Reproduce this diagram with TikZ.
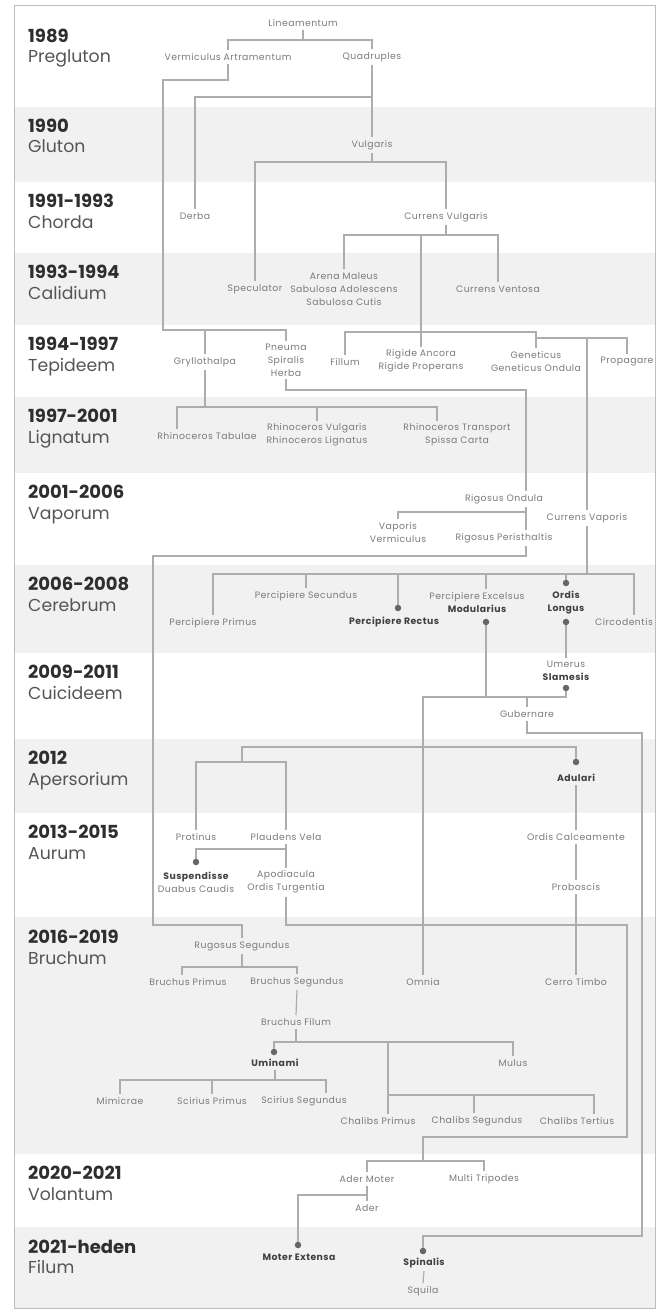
\documentclass[tikz,border=0pt]{standalone}
\usepackage{fontspec}
\setmainfont{Poppins}
\newfontfamily\labfont[LetterSpace=5]{Poppins}
\definecolor{bandc}{HTML}{F1F1F1}
\definecolor{linec}{HTML}{ADADAD}
\definecolor{labc}{HTML}{7A7A7A}
\definecolor{boldc}{HTML}{3F3F3F}
\definecolor{yearc}{HTML}{2E2E2E}
\definecolor{namec}{HTML}{555555}
\definecolor{borderc}{HTML}{BDBDBD}
\definecolor{dotc}{HTML}{666666}
\tikzset{
 lab/.style={font=\labfont\fontsize{9.3}{13}\selectfont, text=labc, align=center, inner sep=3pt},
 blab/.style={lab, font=\labfont\fontsize{9.3}{13}\selectfont\bfseries, text=boldc},
 ln/.style={draw=linec, line width=1.2pt},
 dotmark/.style={circle, fill=dotc, inner sep=0pt, minimum size=6.5pt},
 yearlab/.style={anchor=base west, font=\fontsize{18}{20}\selectfont\bfseries, text=yearc, inner sep=0pt},
 namelab/.style={anchor=base west, font=\fontsize{17.3}{20}\selectfont, text=namec, inner sep=0pt},
}
\newcommand{\bd}[1]{{\color{boldc}\bfseries #1}}
\begin{document}
\begin{tikzpicture}[x=1pt,y=-1pt]
\useasboundingbox (0,0) rectangle (661,1311);
% bands
\fill[bandc] (15,107) rectangle (655,182);
\fill[bandc] (15,253) rectangle (655,325);
\fill[bandc] (15,397) rectangle (655,473);
\fill[bandc] (15,565) rectangle (655,653);
\fill[bandc] (15,739) rectangle (655,813);
\fill[bandc] (15,917) rectangle (655,1154);
\fill[bandc] (15,1227) rectangle (655,1308);
\draw[borderc, line width=1.5pt] (14.5,5.5) rectangle (655.5,1308.5);
% years
\node[yearlab] (y1) at (28,43) {1989};          \node[namelab] (n1) at (28,63) {Pregluton};
\node[yearlab] (y2) at (28,132) {1990};         \node[namelab] (n2) at (28,153) {Gluton};
\node[yearlab] (y3) at (28,207) {1991-1993};    \node[namelab] (n3) at (28,228) {Chorda};
\node[yearlab] (y4) at (28,278) {1993-1994};    \node[namelab] (n4) at (28,299) {Calidium};
\node[yearlab] (y5) at (28,350) {1994-1997};    \node[namelab] (n5) at (28,371) {Tepideem};
\node[yearlab] (y6) at (28,422) {1997-2001};    \node[namelab] (n6) at (28,443) {Lignatum};
\node[yearlab] (y7) at (28,498) {2001-2006};    \node[namelab] (n7) at (28,519) {Vaporum};
\node[yearlab] (y8) at (28,590) {2006-2008};    \node[namelab] (n8) at (28,611) {Cerebrum};
\node[yearlab] (y9) at (28,678) {2009-2011};    \node[namelab] (n9) at (28,699) {Cuicideem};
\node[yearlab] (y10) at (28,764) {2012};        \node[namelab] (n10) at (28,785) {Apersorium};
\node[yearlab] (y11) at (28,838) {2013-2015};   \node[namelab] (n11) at (28,859) {Aurum};
\node[yearlab] (y12) at (28,943) {2016-2019};   \node[namelab] (n12) at (28,964) {Bruchum};
\node[yearlab] (y13) at (28,1179) {2020-2021};  \node[namelab] (n13) at (28,1200) {Volantum};
\node[yearlab] (y14) at (28,1253) {2021-heden}; \node[namelab] (n14) at (28,1273) {Filum};
% labels
\node[lab] (lin) at (303,23) {Lineamentum};
\node[lab] (va) at (228,57) {Vermiculus Artramentum};
\node[lab] (quad) at (372,57) {Quadruples};
\node[lab] (vulg) at (372,145) {Vulgaris};
\node[lab] (derba) at (195,216) {Derba};
\node[lab] (cv) at (446,217) {Currens Vulgaris};
\node[lab] (spec) at (255,289) {Speculator};
\node[lab] (arena) at (344,289) {Arena Maleus\\Sabulosa Adolescens\\Sabulosa Cutis};
\node[lab] (cvent) at (498,289) {Currens Ventosa};
\node[lab] (gryl) at (205,362) {Gryllothalpa};
\node[lab] (pneu) at (286,360) {Pneuma\\Spiralis\\Herba};
\node[lab] (fill) at (345,362) {Fillum};
\node[lab] (rig) at (421,361) {Rigide Ancora\\Rigide Properans};
\node[lab] (gen) at (536,361) {Geneticus\\Geneticus Ondula};
\node[lab] (prop) at (627,362) {Propagare};
\node[lab] (rtab) at (207,436) {Rhinoceros Tabulae};
\node[lab] (rvul) at (317,435) {Rhinoceros Vulgaris\\Rhinoceros Lignatus};
\node[lab] (rtra) at (457,435) {Rhinoceros Transport\\Spissa Carta};
\node[lab] (rond) at (504,499) {Rigosus Ondula};
\node[lab] (vapv) at (398,532) {Vaporis\\Vermiculus};
\node[lab] (rper) at (504,538) {Rigosus Peristhaltis};
\node[lab] (cvap) at (587,518) {Currens Vaporis};
\node[lab] (pprim) at (213,623) {Percipiere Primus};
\node[lab] (psec) at (306,596) {Percipiere Secundus};
\node[blab] (prect) at (394,622) {Percipiere Rectus};
\node[lab] (pexc) at (477,602.5) {Percipiere Excelsus\\\bd{Modularius}};
\node[blab] (ordis) at (566,602.5) {Ordis\\Longus};
\node[lab] (circ) at (624,622) {Circodentis};
\node[lab] (umer) at (566,670.5) {Umerus\\\bd{Slamesis}};
\node[lab] (gub) at (527,714) {Gubernare};
\node[blab] (adul) at (576,778) {Adulari};
\node[lab] (ocal) at (576,837) {Ordis Calceamente};
\node[lab] (prob) at (576,887) {Proboscis};
\node[lab] (cerro) at (576,982) {Cerro Timbo};
\node[lab] (omnia) at (423,982) {Omnia};
\node[lab] (prot) at (196,837) {Protinus};
\node[lab] (plau) at (286,837) {Plaudens Vela};
\node[lab] (susp) at (196,882) {\bd{Suspendisse}\\Duabus Caudis};
\node[lab] (apod) at (286,882) {Apodiacula\\Ordis Turgentia};
\node[lab] (rug) at (242,946) {Rugosus Segundus};
\node[lab] (bprim) at (188,982) {Bruchus Primus};
\node[lab] (bseg) at (297,982) {Bruchus Segundus};
\node[lab] (bfil) at (296,1022) {Bruchus Filum};
\node[blab] (umin) at (275,1063) {Uminami};
\node[lab] (mulus) at (513,1063) {Mulus};
\node[lab] (mimi) at (120,1101) {Mimicrae};
\node[lab] (sprim) at (212,1101) {Scirius Primus};
\node[lab] (sseg) at (304,1101) {Scirius Segundus};
\node[lab] (cprim) at (378,1121) {Chalibs Primus};
\node[lab] (cseg) at (477,1121) {Chalibs Segundus};
\node[lab] (cter) at (577,1121) {Chalibs Tertius};
\node[lab] (am) at (367,1179) {Ader Moter};
\node[lab] (multi) at (484,1179) {Multi Tripodes};
\node[lab] (ader) at (367,1208) {Ader};
\node[blab] (mext) at (299,1257) {Moter Extensa};
\node[blab] (spin) at (424,1263) {Spinalis};
\node[lab] (squ) at (423,1291) {Squila};
% dots
\node[dotmark] (dRect) at (398,608) {};
\node[dotmark] (dOrd1) at (566,583) {};
\node[dotmark] (dMod) at (486,622) {};
\node[dotmark] (dOrd2) at (566,622) {};
\node[dotmark] (dSlam) at (566,688) {};
\node[dotmark] (dAdul) at (576,762) {};
\node[dotmark] (dSusp) at (196,862) {};
\node[dotmark] (dUmin) at (274,1052) {};
\node[dotmark] (dMext) at (298,1245) {};
\node[dotmark] (dSpin) at (423,1251) {};
% shifted anchors
\coordinate (rtabT) at ([xshift=-30pt]rtab.north);
\coordinate (rtraT) at ([xshift=-20pt]rtra.north);
\coordinate (rondT) at ([xshift=22pt]rond.north);
\coordinate (rondB) at ([xshift=22pt]rond.south);
\coordinate (rperT) at ([xshift=22pt]rper.north);
\coordinate (rperB) at ([xshift=22pt]rper.south);
\coordinate (pexcT) at ([xshift=9pt]pexc.north);
\coordinate (circT) at ([xshift=10pt]circ.north);
\coordinate (bprimT) at ([xshift=-6pt]bprim.north);
\coordinate (ssegT) at ([xshift=22pt]sseg.north);
\coordinate (cprimT) at ([xshift=10pt]cprim.north);
\coordinate (csegT) at ([xshift=-3pt]cseg.north);
\coordinate (cterT) at ([xshift=17pt]cter.north);
% connectors
\draw[ln] (lin.south) -- (lin.south |- 0,40);
\draw[ln] (va.north) |- (quad.north |- 0,40) -- (quad.north);
\draw[ln] (va.south) -- (va.south |- 0,80) -- (163,80) -- (163,330) -| (pneu.north);
\draw[ln] (gryl.north |- 0,330) -- (gryl.north);
\draw[ln] (quad.south) -- (vulg.north);
\draw[ln] (quad.south |- 0,97) -| (derba.north);
\draw[ln] (vulg.south) -- (vulg.south |- 0,162);
\draw[ln] (spec.north) |- (cv.north |- 0,162) -- (cv.north);
\draw[ln] (cv.south) -- (cv.south |- 0,235);
\draw[ln] (arena.north) |- (cvent.north |- 0,235) -- (cvent.north);
\draw[ln] (rig.north |- 0,235) -- (rig.north);
\draw[ln] (fill.north) |- (gen.north |- 0,332) -- (gen.north);
\draw[ln] (gen.north |- 0,332) -- (gen.north |- 0,338) -| (prop.north);
\draw[ln] (cvap.north |- 0,338) -- (cvap.north);
\draw[ln] (cvap.south) -- (cvap.south |- 0,574);
\draw[ln] (gryl.south) -- (gryl.south |- 0,407);
\draw[ln] (rtabT) |- (rtraT |- 0,407) -- (rtraT);
\draw[ln] (rvul.north |- 0,407) -- (rvul.north);
\draw[ln] (pneu.south) |- (rondT |- 0,390) -- (rondT);
\draw[ln] (rondB) -- (rondB |- 0,512);
\draw[ln] (vapv.north) |- (rperT |- 0,512) -- (rperT);
\draw[ln] (rperB) -- (rperB |- 0,556) -- (153,556) -- (153,925) -| (rug.north);
\draw[ln] (pprim.north) |- (circT |- 0,574) -- (circT);
\draw[ln] (psec.north |- 0,574) -- (psec.north);
\draw[ln] (dRect |- 0,574) -- (dRect);
\draw[ln] (pexcT |- 0,574) -- (pexcT);
\draw[ln] (dOrd1 |- 0,574) -- (dOrd1);
\draw[ln] (dMod) -- (dMod |- 0,697);
\draw[ln] (omnia.north) |- (dSlam |- 0,697) -- (dSlam);
\draw[ln] (gub.north |- 0,697) -- (gub.north);
\draw[ln] (dOrd2) -- (umer.north);
\draw[ln] (gub.south) -- (gub.south |- 0,733) -- (642,733) -- (642,1236) -| (dSpin);
\coordinate (j1) at (242,762);
\draw[ln] (prot.north) |- (plau.north |- j1) -- (plau.north);
\draw[ln] (j1) -- (j1 |- 0,747) -| (dAdul);
\draw[ln] (adul.south) -- (ocal.north);
\draw[ln] (ocal.south) -- (prob.north);
\draw[ln] (prob.south) -- (cerro.north);
\draw[ln] (plau.south) -- (apod.north);
\draw[ln] (plau.south |- 0,849) -| (dSusp);
\draw[ln] (apod.south) -- (apod.south |- 0,925) -- (627,925) -- (627,1137) -- (423,1137) -- (423,1161);
\draw[ln] (am.north) |- (multi.north |- 0,1161) -- (multi.north);
\draw[ln] (rug.south) -- (rug.south |- 0,967);
\draw[ln] (bprimT) |- (bseg.north |- 0,967) -- (bseg.north);
\draw[ln] (bseg.south) -- (bfil.north);
\draw[ln] (bfil.south) -- (bfil.south |- 0,1042);
\draw[ln] (dUmin) |- (mulus.north |- 0,1042) -- (mulus.north);
\draw[ln] (cprimT |- 0,1042) -- (cprimT);
\draw[ln] (cprimT |- 0,1095) -| (cterT);
\draw[ln] (csegT |- 0,1095) -- (csegT);
\draw[ln] (umin.south) -- (umin.south |- 0,1080);
\draw[ln] (mimi.north) |- (ssegT |- 0,1080) -- (ssegT);
\draw[ln] (sprim.north |- 0,1080) -- (sprim.north);
\draw[ln] (am.south) -- (ader.north);
\draw[ln] (am.south |- 0,1195) -| (dMext);
\draw[ln] (spin.south) -- (squ.north);
\end{tikzpicture}
\end{document}
